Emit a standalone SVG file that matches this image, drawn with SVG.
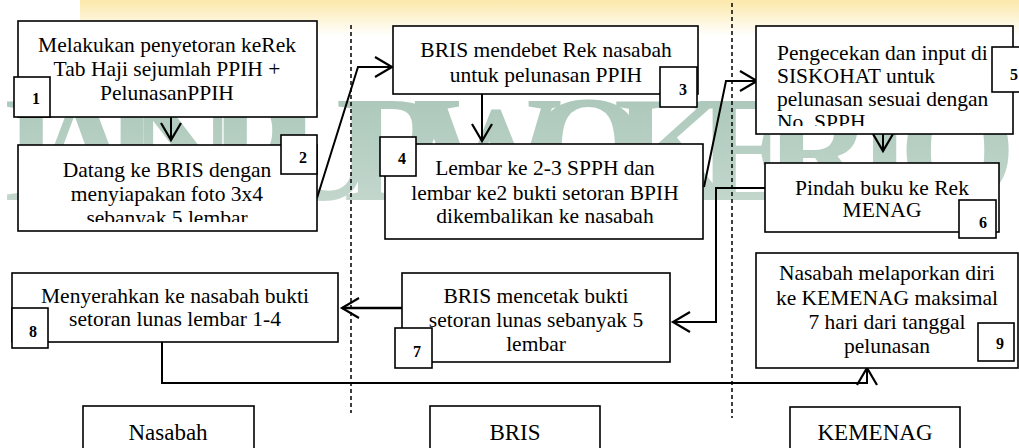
<svg xmlns="http://www.w3.org/2000/svg" width="1019" height="448" viewBox="0 0 1019 448">
<style>
.box{fill:#fff;stroke:#000;stroke-width:1.6}
.lbl{fill:#fff;stroke:#000;stroke-width:1.6}
.t{font-size:21.5px;fill:#000;text-anchor:middle}
.tl{font-size:21.5px;fill:#000}
.n{font-size:16px;font-weight:bold;fill:#000;text-anchor:middle}
.lane{font-size:23px;fill:#000;text-anchor:middle}
.c{fill:none;stroke:#000;stroke-width:2;marker-end:url(#ah)}
.dash{stroke:#000;stroke-width:1.5;stroke-dasharray:4 3}
</style>
<defs>
<marker id="ah" markerUnits="userSpaceOnUse" viewBox="-20 -12 24 24" refX="0" refY="0" markerWidth="24" markerHeight="24" orient="auto" overflow="visible">
<path d="M-17,-10 L0,0 L-17,10" fill="none" stroke="#000" stroke-width="2.2"/>
</marker>
<linearGradient id="glow" x1="0" y1="0" x2="0" y2="1">
<stop offset="0" stop-color="#fbe49a" stop-opacity="0.85"/>
<stop offset="1" stop-color="#fbe49a" stop-opacity="0"/>
</linearGradient>
<linearGradient id="wm" x1="0" y1="0" x2="0" y2="1">
<stop offset="0" stop-color="#a6c4b6"/>
<stop offset="0.8" stop-color="#c2d6cc"/>
<stop offset="1" stop-color="#e8f0ec"/>
</linearGradient>
<clipPath id="clip2"><rect x="18" y="145" width="299" height="77"/></clipPath>
<clipPath id="clip5"><rect x="756" y="26" width="257" height="100"/></clipPath>
</defs>

<g id="background">
<rect x="0" y="0" width="1019" height="448" fill="#fff"/>
<rect x="80" y="0" width="939" height="36" fill="url(#glow)"/>
<text x="2" y="200" font-family="'Liberation Serif', serif" font-weight="bold" font-size="150" fill="url(#wm)" textLength="1014" lengthAdjust="spacing">IAIN PURWOKERTO</text>
</g>

<g id="lanes">
<line class="dash" x1="351" y1="25" x2="351" y2="413"/>
<line class="dash" x1="732" y1="3" x2="732" y2="418"/>
</g>

<g id="connectors">
<line class="c" x1="171" y1="117" x2="171" y2="140"/>
<polyline class="c" points="317,198 358,67 392,67"/>
<line class="c" x1="482" y1="94" x2="482" y2="141"/>
<polyline class="c" points="704,187 726,81 757,81"/>
<line class="c" x1="883" y1="134" x2="883" y2="151"/>
<polyline class="c" points="765,188 716,188 716,322 673,322"/>
<line class="c" x1="402" y1="308" x2="342" y2="308" style="stroke-width:2.6"/>
<polyline class="c" points="162,342 162,383 867,383 867,368"/>
</g>

<g font-family="'Liberation Serif', 'Times New Roman', serif">
<g id="node1">
<rect class="box" x="18" y="21" width="299" height="96"/>
<text class="t" x="167" y="52">Melakukan penyetoran keRek</text>
<text class="t" x="167" y="76">Tab Haji sejumlah PPIH +</text>
<text class="t" x="167" y="100">PelunasanPPIH</text>
<rect class="lbl" x="14" y="77" width="36" height="40"/>
<text class="n" x="36" y="104">1</text>
</g>

<g id="node2">
<rect class="box" x="18" y="145" width="299" height="86"/>
<g clip-path="url(#clip2)">
<text class="t" x="167" y="177">Datang ke BRIS dengan</text>
<text class="t" x="167" y="201">menyiapakan foto 3x4</text>
<text class="t" x="167" y="225">sebanyak 5 lembar</text>
</g>
<rect class="lbl" x="281" y="135" width="36" height="39"/>
<text class="n" x="303" y="163">2</text>
</g>

<g id="node3">
<rect class="box" x="393" y="26" width="305" height="68"/>
<text class="t" x="546" y="57">BRIS mendebet Rek nasabah</text>
<text class="t" x="546" y="82">untuk pelunasan PPIH</text>
<rect class="lbl" x="660" y="67" width="37" height="40"/>
<text class="n" x="683" y="95">3</text>
</g>

<g id="node4">
<rect class="box" x="385" y="144" width="318" height="95"/>
<text class="t" x="545" y="175">Lembar ke 2-3 SPPH dan</text>
<text class="t" x="545" y="200">lembar ke2 bukti setoran BPIH</text>
<text class="t" x="545" y="223">dikembalikan ke nasabah</text>
<rect class="lbl" x="380" y="137" width="36" height="39"/>
<text class="n" x="402" y="164">4</text>
</g>

<g id="node5">
<rect class="box" x="756" y="26" width="257" height="108"/>
<g clip-path="url(#clip5)">
<text class="tl" x="777" y="60">Pengecekan dan input di</text>
<text class="tl" x="777" y="83">SISKOHAT untuk</text>
<text class="tl" x="777" y="106">pelunasan sesuai dengan</text>
<text class="tl" x="777" y="129">No. SPPH</text>
</g>
<rect class="lbl" x="992" y="47" width="34" height="45"/>
<text class="n" x="1014" y="80">5</text>
</g>

<g id="node6">
<rect class="box" x="765" y="163" width="234" height="69"/>
<text class="t" x="882" y="195">Pindah buku ke Rek</text>
<text class="t" x="882" y="217">MENAG</text>
<rect class="lbl" x="959" y="200" width="37" height="38"/>
<text class="n" x="983" y="228">6</text>
</g>

<g id="node7">
<rect class="box" x="402" y="273" width="268" height="89"/>
<text class="t" x="536" y="303">BRIS mencetak bukti</text>
<text class="t" x="536" y="327">setoran lunas sebanyak 5</text>
<text class="t" x="536" y="351">lembar</text>
<rect class="lbl" x="395" y="328" width="37" height="40"/>
<text class="n" x="417" y="357">7</text>
</g>

<g id="node8">
<rect class="box" x="12" y="273" width="326" height="69"/>
<text class="t" x="175" y="303">Menyerahkan ke nasabah bukti</text>
<text class="t" x="175" y="326">setoran lunas lembar 1-4</text>
<rect class="lbl" x="12" y="308" width="36" height="40"/>
<text class="n" x="33" y="337">8</text>
</g>

<g id="node9">
<rect class="box" x="756" y="253" width="262" height="115"/>
<text class="t" x="887" y="280">Nasabah melaporkan diri</text>
<text class="t" x="887" y="305">ke KEMENAG maksimal</text>
<text class="t" x="887" y="329">7 hari dari tanggal</text>
<text class="t" x="887" y="353">pelunasan</text>
<rect class="lbl" x="978" y="323" width="36" height="38"/>
<text class="n" x="1000" y="349">9</text>
</g>

<g id="lane-nasabah">
<rect class="box" x="83" y="406" width="171" height="60"/>
<text class="lane" x="168" y="440">Nasabah</text>
</g>
<g id="lane-bris">
<rect class="box" x="430" y="406" width="170" height="60"/>
<text class="lane" x="515" y="440">BRIS</text>
</g>
<g id="lane-kemenag">
<rect class="box" x="790" y="407" width="170" height="60"/>
<text class="lane" x="875" y="440">KEMENAG</text>
</g>
</g>
</svg>
